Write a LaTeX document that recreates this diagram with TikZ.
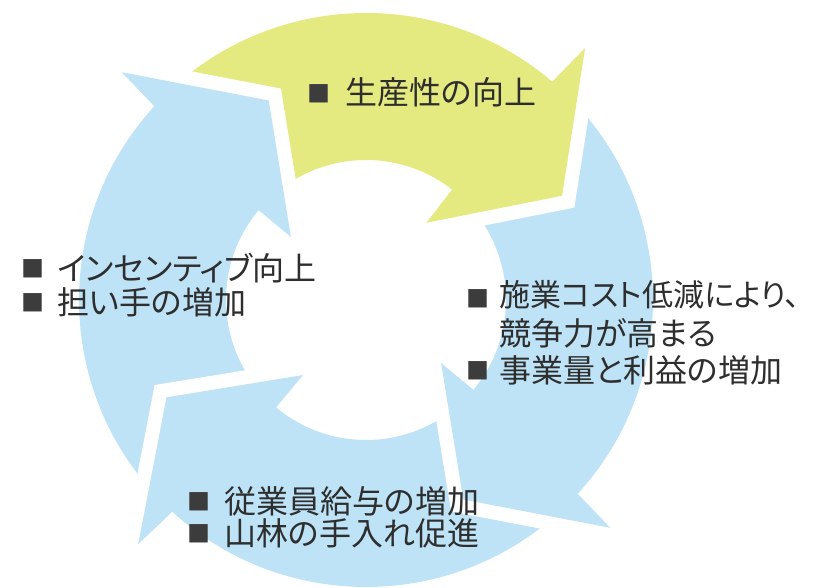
\documentclass[tikz,border=0pt]{standalone}
\usepackage{fontspec}
\newfontfamily\jpfont[RawFeature=+palt]{Noto Sans CJK JP}
\definecolor{ygreen}{HTML}{E4EA80}
\definecolor{lblue}{HTML}{BEE3F7}
\definecolor{txt}{HTML}{2E2E2E}
\definecolor{bul}{HTML}{3C3C3C}
% #1 = tip angle, #2 = colour
\newcommand{\arrbody}[2]{%
  \fill[#2] ({#1+110}:287) arc[start angle={#1+110}, end angle={#1+21.5}, radius=287]
    -- ({#1+21}:334) -- (#1:222) -- ({#1+24}:98) -- ({#1+24}:140)
    arc[start angle={#1+24}, end angle={#1+112}, radius=140] -- cycle;}
\newcommand{\arrgap}[1]{%
  \draw[white, line width=28pt, line join=miter] ({#1+21}:334) -- (#1:222) -- ({#1+24}:98);}
\newcommand{\arrhead}[2]{%
  \fill[#2] ({#1+21.5}:287) -- ({#1+21}:334) -- (#1:222) -- ({#1+24}:98) -- ({#1+24}:140) -- cycle;}
\begin{document}
\begin{tikzpicture}[x=1pt,y=1pt,
  lbl/.style={anchor=west, inner sep=0pt, text=txt, font=\jpfont\fontsize{32}{36}\selectfont},
  bulnode/.style={anchor=west, inner sep=0pt, text=bul, font=\jpfont\fontsize{23}{23}\selectfont}]
\useasboundingbox (0,0) rectangle (818,588);
\begin{scope}[shift={(366,288)}]
  \arrbody{28}{ygreen}
  \arrbody{116}{lblue}
  \arrbody{206}{lblue}
  \arrbody{296}{lblue}
  \arrgap{28}\arrgap{116}\arrgap{206}\arrgap{296}
  \arrhead{28}{ygreen}
  \arrhead{116}{lblue}
  \arrhead{206}{lblue}
  \arrhead{296}{lblue}
\end{scope}
% top
\node[bulnode] (bt) at (307,494.5) {■};
\node[lbl] (tt) at (345,496) {生産性の向上};
% left
\node[bulnode] (bl1) at (21,319) {■};
\node[lbl] (tl1) at (57,320) {インセンティブ向上};
\node[bulnode] (bl2) at (21,285) {■};
\node[lbl] (tl2) at (57,286) {担い手の増加};
% right
\node[bulnode] (br1) at (466,289.5) {■};
\node[lbl, font=\jpfont\fontsize{31}{36}\selectfont] (tr1) at (499,293) {施業コスト低減により、};
\node[lbl] (tr2) at (499,255) {競争力が高まる};
\node[bulnode] (br3) at (466,217) {■};
\node[lbl] (tr3) at (499,218) {事業量と利益の増加};
% bottom
\node[bulnode] (bb1) at (187,86.5) {■};
\node[lbl] (tb1) at (224,87) {従業員給与の増加};
\node[bulnode] (bb2) at (187,54) {■};
\node[lbl] (tb2) at (224,55) {山林の手入れ促進};
\end{tikzpicture}
\end{document}
